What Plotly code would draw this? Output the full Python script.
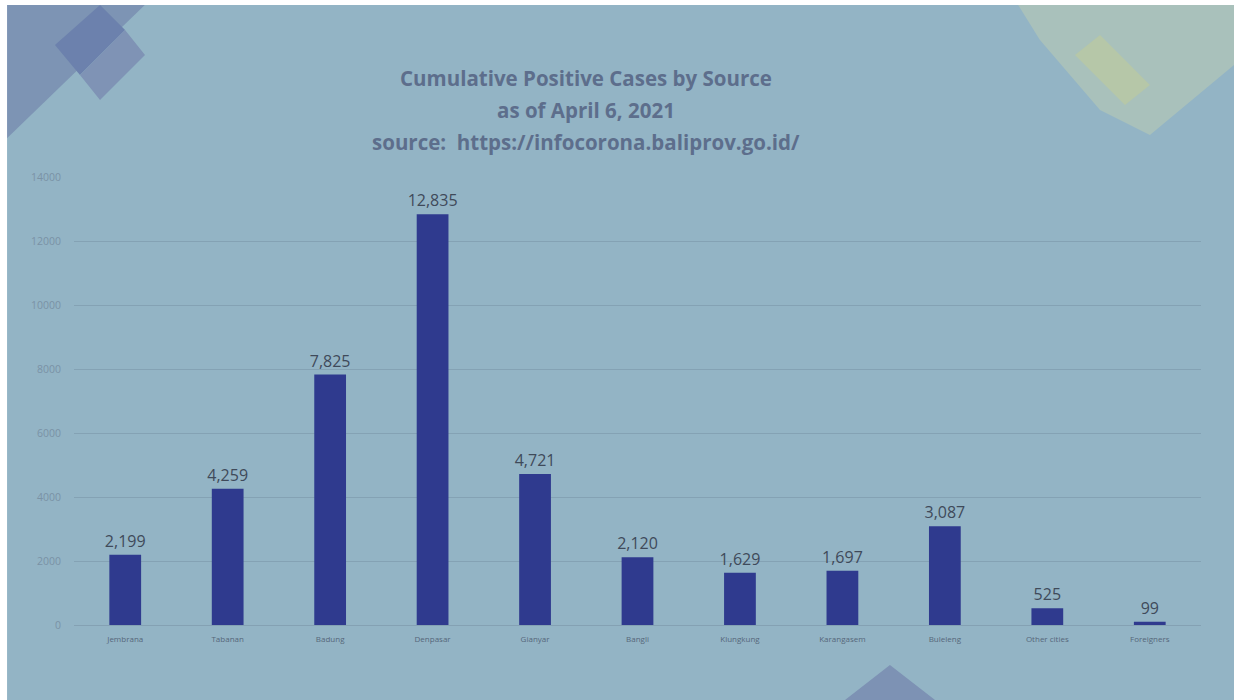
import plotly.graph_objects as go

# --- data ---
regions = ["Jembrana", "Tabanan", "Badung", "Denpasar", "Gianyar", "Bangli",
           "Klungkung", "Karangasem", "Buleleng", "Other cities", "Foreigners"]
cases = [2199, 4259, 7825, 12835, 4721, 2120, 1629, 1697, 3087, 525, 99]
y_ticks = [0, 2000, 4000, 6000, 8000, 10000, 12000, 14000]

W, H = 1234, 700
L, R, T, B = 74, 33, 177, 75
BG = "#93b4c5"


def px(x, y):
    """pixel position -> paper coords (so the slide decorations sit right)"""
    return (x - L) / (W - L - R), (H - B - y) / (H - T - B)


def poly(points, color, opacity=1.0, layer="below"):
    pts = [px(x, y) for x, y in points]
    path = "M " + " L ".join(f"{a:.4f},{b:.4f}" for a, b in pts) + " Z"
    return dict(type="path", xref="paper", yref="paper", path=path,
                fillcolor=color, line=dict(width=0), opacity=opacity, layer=layer)


fig = go.Figure()
fig.add_trace(go.Bar(
    x=regions, y=cases,
    marker=dict(color="#2f3a8e", line=dict(width=0)),
    text=[f"{v:,}" for v in cases], textposition="outside",
    constraintext="none",
    textfont=dict(size=16, color="#3f4a5a", family="Open Sans"),
    cliponaxis=False,
))

shapes = [
    # top-left corner decoration
    poly([(0, 0), (150, 0), (0, 145)], "#7d94b4"),
    poly([(55, 45), (100, 5), (125, 30), (80, 75)], "#6c81ad"),
    poly([(80, 75), (125, 30), (145, 55), (100, 100)], "#7f93b5"),
    # top-right corner decoration
    poly([(1015, 0), (1234, 0), (1234, 65), (1150, 135), (1100, 110), (1040, 40)], "#a9c1bb"),
    poly([(1075, 55), (1100, 35), (1150, 85), (1125, 105)], "#b6c7a8"),
    # bottom triangle
    poly([(845, 700), (890, 665), (935, 700)], "#7d92b4"),
    # white edges of the photo
    poly([(0, 0), (1234, 0), (1234, 5), (0, 5)], "#ffffff", layer="above"),
    poly([(0, 0), (7, 0), (7, 700), (0, 700)], "#ffffff", layer="above"),
]

fig.update_layout(
    width=W, height=H,
    margin=dict(l=L, r=R, t=T, b=B),
    paper_bgcolor=BG, plot_bgcolor=BG,
    bargap=0.69,
    showlegend=False,
    shapes=shapes,
    font=dict(family="Open Sans", color="#5b6b7c"),
    xaxis=dict(showgrid=False, showline=True, linecolor="#84a1b3",
               tickfont=dict(size=8, color="#56677a"), ticks="", ticklabelstandoff=6),
    yaxis=dict(range=[0, 14000], tickvals=y_ticks, ticktext=[str(v) for v in y_ticks],
               showgrid=True, gridcolor="#84a2b4", gridwidth=1, zeroline=False,
               tickfont=dict(size=10.5, color="#7a92a5"), ticklabelstandoff=12),
)

title_lines = ["Cumulative Positive Cases by Source", "as of April 6, 2021",
               "source:  https://infocorona.baliprov.go.id/"]
for i, line in enumerate(title_lines):
    x0, y0 = px(586, 78 + i * 32)
    fig.add_annotation(text=f"<b>{line}</b>", xref="paper", yref="paper",
                       x=x0, y=y0, yanchor="middle", showarrow=False,
                       font=dict(size=20.5, color="#5d6e8c", family="Open Sans"))

fig.write_html("out.html", config={"displayModeBar": False},
               post_script="document.body.style.margin='0';")
